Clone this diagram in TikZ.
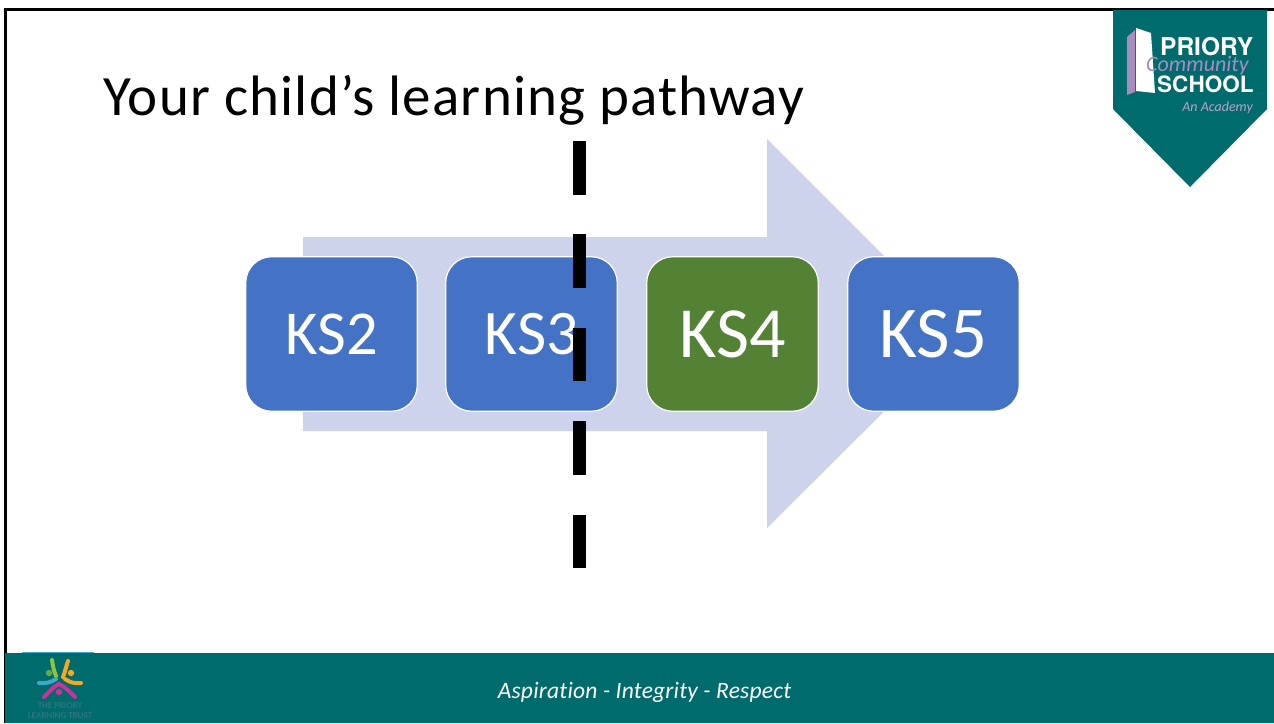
\documentclass[tikz,border=0pt]{standalone}
\usepackage{fontspec}
\setmainfont{Carlito}
\newfontfamily\logofont{TeX Gyre Heros}
\newfontfamily\titlefont[LetterSpace=2.1,Ligatures=NoCommon]{Carlito}
\newfontfamily\mottofont[LetterSpace=0.9,Ligatures=NoCommon,ItalicFont={Carlito Italic},UprightFont={Carlito Italic}]{Carlito}
\definecolor{teal1}{HTML}{006B6C}
\definecolor{arrowc}{HTML}{CDD3EB}
\definecolor{blueb}{HTML}{4472C4}
\definecolor{greenb}{HTML}{548235}
\definecolor{lilac}{HTML}{A98BC0}
\definecolor{trustt}{HTML}{2F7480}
\definecolor{limbg}{HTML}{8CC63F}
\definecolor{limbo}{HTML}{F5A623}
\definecolor{limbc}{HTML}{3FA9C9}
\definecolor{limbm}{HTML}{C8329B}
\tikzset{
  ks/.style={draw=white,line width=1.2pt,rounded corners=26pt,minimum width=171.5pt,minimum height=154.5pt,inner sep=0pt,text=white},
  lg/.style={inner sep=0pt,text=white,anchor=west},
  limb/.style={line width=4pt,line cap=round}
}
\begin{document}
\begin{tikzpicture}[x=1pt,y=-1pt]
\useasboundingbox (0,0) rectangle (1274,723);
\fill[white] (0,0) rectangle (1274,723);
% frame
\draw[black,line width=3pt] (5.5,723) -- (5.5,9) -- (1274,9);
% footer
\fill[teal1] (5,653) rectangle (1274,723);
\draw[limbc,line width=1pt] (22,652.5) -- (94,652.5);
\node[font=\mottofont\fontsize{23.5}{26}\selectfont,text=white,inner sep=0pt] (motto) at (644.5,692) {Aspiration - Integrity - Respect};
% trust logo
\draw[limb,color=limbg] (52,660) .. controls (53,667) and (54,671) .. (56,676);
\draw[limb,color=limbo] (68,661) .. controls (66,667) and (65,672) .. (63,677);
\draw[limb,color=limbc] (39,683) .. controls (45,684) and (52,682) .. (56,679);
\draw[limb,color=limbo] (81,683) .. controls (75,684) and (69,682) .. (65,679);
\draw[limb,color=limbm] (44,697) .. controls (49,692) and (54,686) .. (59,684) .. controls (64,686) and (70,692) .. (75,697);
\fill[limbg!70!teal1] (49,673) circle (3.2pt);
\fill[limbo] (71,673) circle (3.2pt);
\fill[limbm] (59,692) circle (3.2pt);
\node[font=\fontsize{9}{10}\selectfont\bfseries,text=trustt,align=center,inner sep=0pt] (trust) at (60,711) {THE PRIORY\\LEARNING TRUST};
% school badge
\fill[teal1] (1113,10) -- (1267,10) -- (1267,109) -- (1190,187) -- (1113,109) -- cycle;
\fill[lilac] (1127,37) -- (1135,30) -- (1135,92) -- (1127,95) -- cycle;
\fill[white] (1136,28) -- (1151,33) -- (1155,93) -- (1136,91) -- cycle;
\node[lg,font=\logofont\bfseries\fontsize{24.5}{28}\selectfont] (priory) at (1160,47) {PRIORY};
\node[lg,font=\logofont\bfseries\fontsize{22.5}{28}\selectfont] (school) at (1157,84) {SCHOOL};
\node[inner sep=0pt,anchor=west,text=lilac,font=\itshape\fontsize{22}{25}\selectfont] (comm) at (1146,66) {Community};
\node[inner sep=0pt,anchor=east,text=lilac!80!white,font=\itshape\fontsize{14}{16}\selectfont] (acad) at (1253,108) {An Academy};
% title
\node[anchor=base west,inner sep=0pt,font=\titlefont\fontsize{57}{64}\selectfont] (title) at (103,115) {Your child’s learning pathway};
% big arrow
\fill[arrowc] (303,237) -- (767,237) -- (767,139) -- (962,334) -- (767,528) -- (767,431) -- (303,431) -- cycle;
% boxes
\node[ks,fill=blueb,font=\fontsize{62.5}{70}\selectfont] (ks2) at (331.5,334) {KS2};
\node[ks,fill=blueb,font=\fontsize{63.5}{62}\selectfont] (ks3) at (531.5,334) {KS3};
\node[ks,fill=greenb,font=\fontsize{72}{78}\selectfont] (ks4) at (732.5,334) {KS4};
\node[ks,fill=blueb,font=\fontsize{73}{78}\selectfont] (ks5) at (933.5,334) {KS5};
% dashed divider
\coordinate (dtop) at (579.5,141);
\coordinate (dbot) at (579.5,568);
\draw[black,line width=13pt,dash pattern=on 53.5pt off 39.9pt] (dtop) -- (dbot);
\end{tikzpicture}
\end{document}
